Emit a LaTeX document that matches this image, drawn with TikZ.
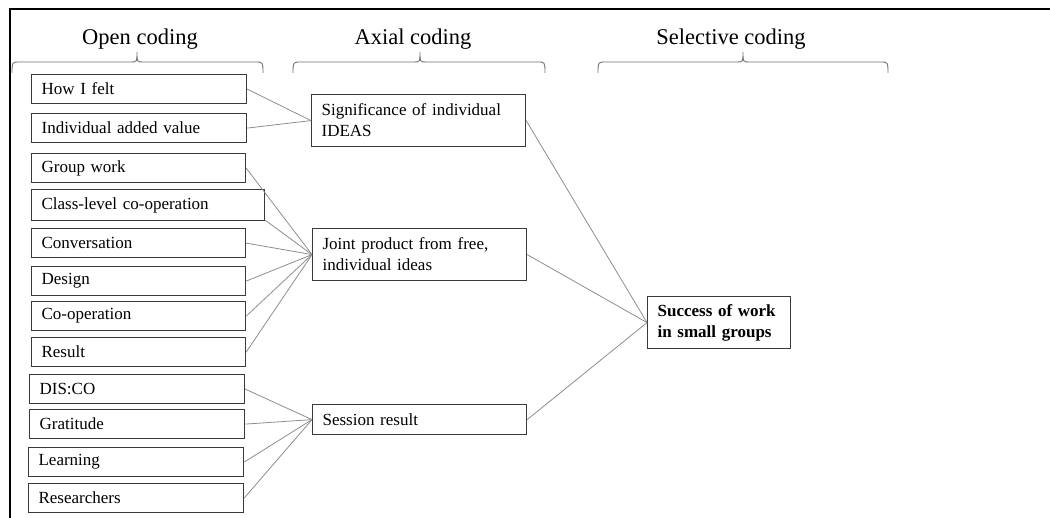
\documentclass[tikz,border=0pt]{standalone}
\usepackage{fontspec}
\setmainfont{Liberation Serif}
\begin{document}
\newcommand\cellfont{\fontsize{17}{21}\selectfont\spaceskip=5.5pt plus 1pt}
\newcommand\headfont{\fontsize{22.5}{26}\selectfont}
\definecolor{boxline}{HTML}{3A3A3A}
\definecolor{linkline}{HTML}{8E8E8E}
\begin{tikzpicture}[x=1pt,y=-1pt,
  codebox/.style={draw=boxline, line width=1.2pt, anchor=north west,
    inner xsep=10pt, inner ysep=0pt, align=left, font=\cellfont,
    minimum height=29pt},
  axbox/.style={codebox, minimum height=52pt},
  link/.style={draw=linkline, line width=0.8pt},
  heading/.style={anchor=base, font=\headfont, inner sep=0pt},
  bracket/.style={draw=linkline!80!black, line width=0.9pt}]
\useasboundingbox[fill=white] (0,0) rectangle (1050,518);

% frame
\draw[line width=2pt] (10,518) -- (10,9) -- (1050,9);

% column headings
\node[heading] (hopen) at (140,45) {Open coding};
\node[heading] (haxial) at (413,45) {Axial coding};
\node[heading] (hsel) at (731,45) {Selective coding};

% braces under the headings
\draw[bracket] (12,73) .. controls (12,62) .. (20,62) -- (131,62)
  .. controls (137,62) .. (137,52) .. controls (137,62) .. (143,62)
  -- (255,62) .. controls (263,62) .. (263,73);
\draw[bracket] (293,73) .. controls (293,62) .. (301,62) -- (414,62)
  .. controls (420,62) .. (420,52) .. controls (420,62) .. (426,62)
  -- (537,62) .. controls (545,62) .. (545,73);
\draw[bracket] (598,73) .. controls (598,62) .. (606,62) -- (737,62)
  .. controls (743,62) .. (743,52) .. controls (743,62) .. (749,62)
  -- (880,62) .. controls (888,62) .. (888,73);

% open codes
\node[codebox, text width=195pt] (hw) at (31,74) {How I felt};
\node[codebox, text width=195pt] (iav) at (31,113) {Individual added value};
\node[codebox, text width=194pt] (gw) at (31,153) {Group work};
\node[codebox, text width=213pt, minimum height=31pt] (cl) at (31,189) {Class-level co-operation};
\node[codebox, text width=194pt] (conv) at (31,228) {Conversation};
\node[codebox, text width=194pt] (des) at (31,266) {Design};
\node[codebox, text width=194pt] (coop) at (31,301) {Co-operation};
\node[codebox, text width=194pt] (res) at (31,337) {Result};
\node[codebox, text width=195pt] (disco) at (29,374) {DIS:CO};
\node[codebox, text width=195pt] (grat) at (29,409) {Gratitude};
\node[codebox, text width=195pt] (learn) at (28,447) {Learning};
\node[codebox, text width=195pt] (rsr) at (28,483) {Researchers};

% axial codes
\node[axbox, text width=194pt] (sig) at (311,94) {Significance of individual\\IDEAS};
\node[axbox, text width=194pt] (joint) at (312,228) {Joint product from free,\\individual ideas};
\node[codebox, text width=194pt, minimum height=30pt] (sess) at (312,404) {Session result};

% selective code
\node[axbox, text width=123pt, font=\cellfont\bfseries] (succ) at (647,296) {Success of work\\in small groups};

% links: open -> axial
\draw[link] (hw.east) -- (sig.west);
\draw[link] (iav.east) -- (sig.west);
\draw[link] (gw.east) -- (joint.west);
\draw[link] ([yshift=1pt]cl.south east) -- (joint.west);
\draw[link] (conv.east) -- (joint.west);
\draw[link] (des.east) -- (joint.west);
\draw[link] (coop.east) -- (joint.west);
\draw[link] (res.east) -- (joint.west);
\draw[link] (disco.east) -- (sess.west);
\draw[link] (grat.east) -- (sess.west);
\draw[link] (learn.east) -- (sess.west);
\draw[link] (rsr.east) -- (sess.west);

% links: axial -> selective
\draw[link] (sig.east) -- (succ.west);
\draw[link] (joint.east) -- (succ.west);
\draw[link] (sess.east) -- (succ.west);
\end{tikzpicture}
\end{document}
